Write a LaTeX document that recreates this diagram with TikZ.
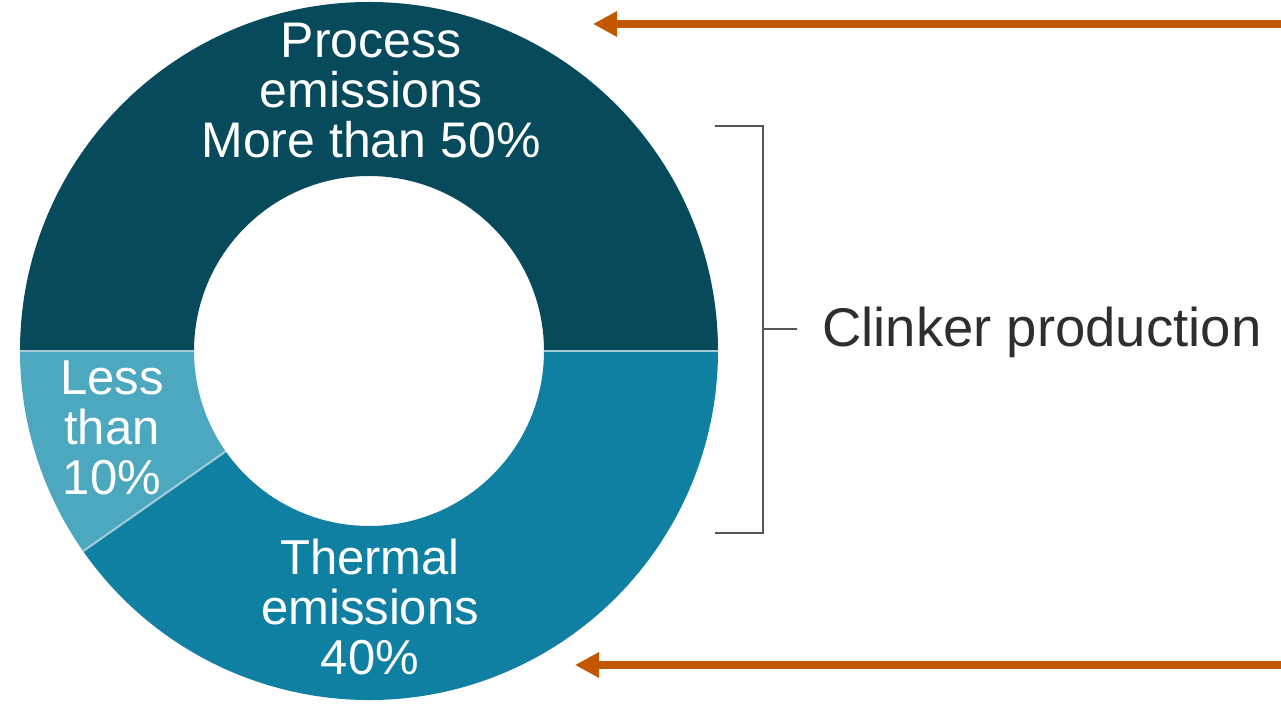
\documentclass[tikz,border=0pt]{standalone}
\usepackage{fontspec}
\setmainfont{Liberation Sans}
\usetikzlibrary{arrows.meta}

\definecolor{processcol}{HTML}{064A5C}
\definecolor{thermalcol}{HTML}{0F80A1}
\definecolor{lesscol}{HTML}{4BA8BE}
\definecolor{sepcol}{HTML}{A6CCD6}
\definecolor{arrowcol}{HTML}{C25700}
\definecolor{bracketcol}{HTML}{555555}
\definecolor{labelcol}{HTML}{2E2E2E}

\tikzset{
  seglabel/.style={text=white, align=center, inner sep=0pt,
    font=\fontsize{49}{50}\selectfont},
  sepline/.style={draw=sepcol, line width=2pt},
  bigarrow/.style={draw=arrowcol, line width=8pt,
    -{Triangle[length=24pt,width=24pt]}},
  bracketline/.style={draw=bracketcol, line width=2pt}
}

\begin{document}
\begin{tikzpicture}[x=1pt,y=1pt]
  \useasboundingbox (0,0) rectangle (1281,706);

  % ring centre and radii
  \def\Ro{349}
  \def\Ri{175}
  \coordinate (c) at (369,355);

  % ring segments
  \fill[processcol] ([shift={(0:\Ro)}]c) arc[start angle=0,end angle=180,radius=\Ro]
    -- ([shift={(180:\Ri)}]c) arc[start angle=180,end angle=0,radius=\Ri] -- cycle;
  \fill[lesscol] ([shift={(180:\Ro)}]c) arc[start angle=180,end angle=215,radius=\Ro]
    -- ([shift={(215:\Ri)}]c) arc[start angle=215,end angle=180,radius=\Ri] -- cycle;
  \fill[thermalcol] ([shift={(215:\Ro)}]c) arc[start angle=215,end angle=360,radius=\Ro]
    -- ([shift={(360:\Ri)}]c) arc[start angle=360,end angle=215,radius=\Ri] -- cycle;

  % separators between segments
  \draw[sepline] ([shift={(0:\Ri)}]c) -- ([shift={(0:\Ro)}]c);
  \draw[sepline] ([shift={(180:\Ri)}]c) -- ([shift={(180:\Ro)}]c);
  \draw[sepline] ([shift={(215:\Ri)}]c) -- ([shift={(215:\Ro)}]c);

  % segment labels
  \node[seglabel, font=\fontsize{50}{50}\selectfont] (process) at (371,615)
    {Process\\emissions\\More than 50\%};
  \node[seglabel] (thermal) at (370,99) {Thermal\\emissions\\40\%};
  \node[seglabel] (less) at (112,278) {Less\\than\\10\%};

  % bracket for clinker production
  \coordinate (bt0) at (715,580);
  \coordinate (bt1) at (763,580);
  \coordinate (bb1) at (763,173);
  \coordinate (bb0) at (715,173);
  \coordinate (bm0) at (763,377);
  \coordinate (bm1) at (797,377);
  \draw[bracketline] (bt0) -- (bt1) -- (bb1) -- (bb0);
  \draw[bracketline] (bm0) -- (bm1);
  \node[anchor=base west, inner sep=0pt, text=labelcol,
        font=\fontsize{54.5}{60}\selectfont] (clinker) at (822,359) {Clinker production};

  % orange pointers
  \coordinate (topstart) at (1281,682);
  \coordinate (toptip) at (593,682);
  \coordinate (botstart) at (1281,41);
  \coordinate (bottip) at (575,41);
  \draw[bigarrow] (topstart) -- (toptip);
  \draw[bigarrow] (botstart) -- (bottip);
\end{tikzpicture}
\end{document}
